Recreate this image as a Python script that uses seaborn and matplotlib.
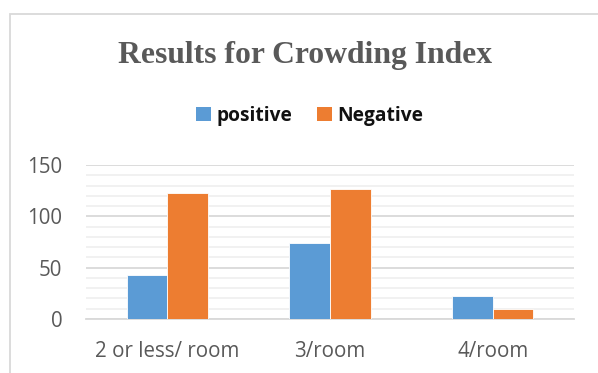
import matplotlib
matplotlib.use("Agg")
import matplotlib.pyplot as plt
from matplotlib.patches import Rectangle, Patch
from matplotlib.ticker import MultipleLocator
import pandas as pd
import seaborn as sns

# Crowding index categories and counts per test result
categories = ["2 or less/ room", "3/room", "4/room"]
positive = [43, 74, 22]
negative = [123, 127, 10]
series_names = ["positive", "Negative"]
colors = ["#5B9BD5", "#ED7D31"]

df = pd.DataFrame({
    "category": categories * 2,
    "result": [series_names[0]] * len(categories) + [series_names[1]] * len(categories),
    "count": positive + negative,
})

sns.set_theme(style="white")
plt.rcParams["font.family"] = ["Open Sans", "DejaVu Sans"]

fig = plt.figure(figsize=(5.98, 3.73), dpi=100)
ax = fig.add_axes([86 / 598, 54 / 373, 488 / 598, 154 / 373])

sns.barplot(data=df, x="category", y="count", hue="result",
            hue_order=series_names, palette=colors, order=categories,
            width=0.5, saturation=1, ax=ax, legend=False,
            edgecolor="white", linewidth=0.6, zorder=3)

ax.set_xlim(-0.5, 2.5)
ax.set_ylim(0, 150)
ax.yaxis.set_major_locator(MultipleLocator(50))
ax.yaxis.set_minor_locator(MultipleLocator(10))
ax.grid(which="major", axis="y", color="#d9d9d9", linewidth=1.3, zorder=0)
ax.grid(which="minor", axis="y", color="#f0f0f0", linewidth=1.3, zorder=0)
ax.set_axisbelow(True)
for side in ["top", "right", "left"]:
    ax.spines[side].set_visible(False)
ax.spines["bottom"].set_color("#d9d9d9")
ax.spines["bottom"].set_linewidth(1.3)

ax.set_xlabel("")
ax.set_ylabel("")
ax.tick_params(axis="both", which="both", length=0, labelsize=14.8, colors="#595959")
ax.tick_params(axis="y", pad=17)
ax.tick_params(axis="x", pad=16)

fig.text(305 / 598, 1 - 56 / 373, "Results for Crowding Index",
         ha="center", va="center", fontsize=22.8, fontweight="bold",
         color="#595959", family=["Liberation Serif", "DejaVu Serif"])

handles = [Patch(facecolor=c, edgecolor="none") for c in colors]
fig.legend(handles, series_names, loc="center", bbox_to_anchor=(310 / 598, 1 - 116 / 373),
           ncol=2, frameon=False, handlelength=0.75, handleheight=0.75,
           handletextpad=0.3, columnspacing=1.3,
           prop={"family": ["Open Sans", "DejaVu Sans"], "weight": "bold", "size": 13.8})
for t in fig.legends[0].get_texts():
    t.set_color("#111111")

# outer chart frame
fig.add_artist(Rectangle((10 / 598, -0.05), 1.0, 1 - 14 / 373 + 0.05,
                         transform=fig.transFigure, fill=False,
                         edgecolor="#d9d9d9", linewidth=1.3))

fig.savefig("out.png", dpi=100)
